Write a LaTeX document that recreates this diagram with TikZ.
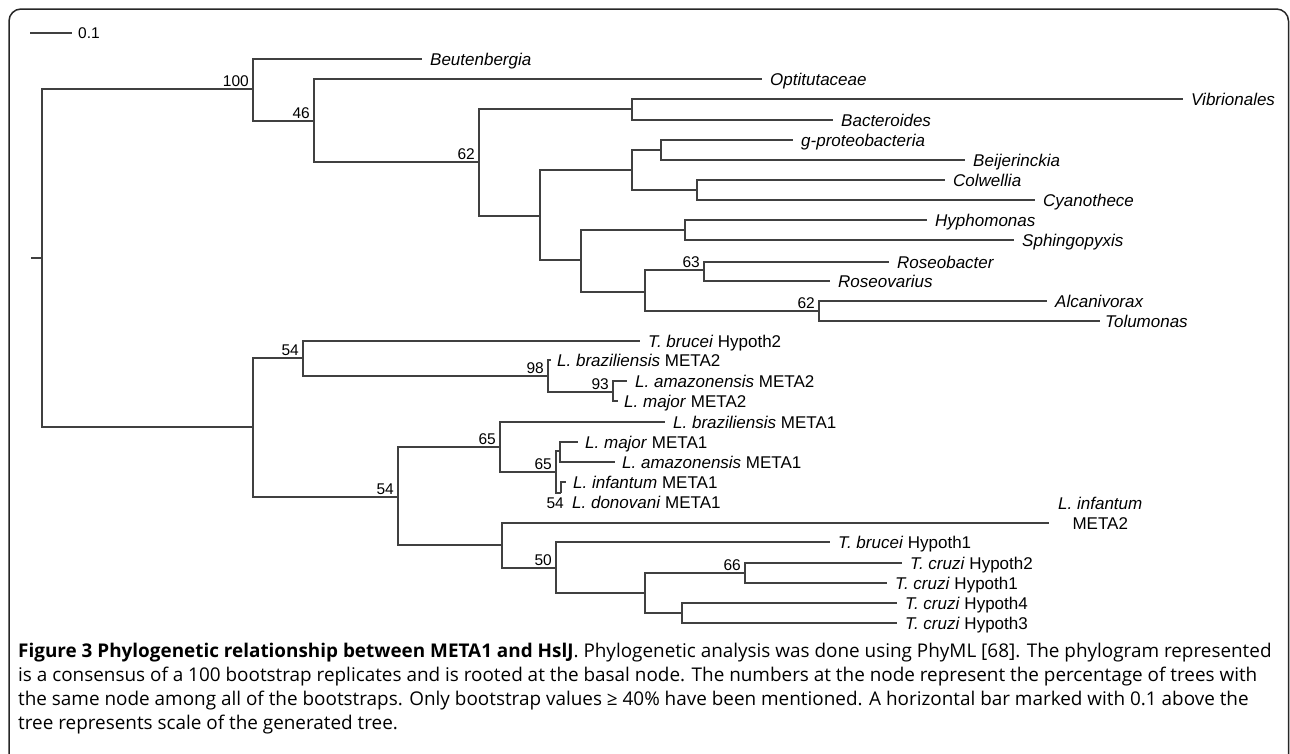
\documentclass[tikz,border=0pt]{standalone}
\usepackage{fontspec}
\setmainfont{Liberation Sans}
\newfontfamily\capfont{Open Sans}
\usetikzlibrary{calc}
\tikzset{
  br/.style={draw=black!75, line width=2.1pt},
  frame/.style={draw=black!85, line width=1.5pt, rounded corners=12pt},
  leaf/.style={font=\fontsize{17}{20}\selectfont, inner sep=0pt, anchor=base west},
  boot/.style={font=\fontsize{15.5}{18}\selectfont, inner sep=0pt, anchor=base east},
}
\newcommand{\lf}[3]{\node[leaf] (l#1) at ($(#1)+(8,6)$) {#3};}
\newcommand{\bs}[2]{\node[boot] (b#1) at ($(#1)+(-4,-3)$) {#2};}
\begin{document}
\begin{tikzpicture}[x=1pt,y=-1pt]
\useasboundingbox (0,0) rectangle (1290,753);
\draw[frame] (9,760) -- (9,9) -- (1288.5,9) -- (1288.5,760);

% scale bar
\coordinate (sb1) at (30,33);
\coordinate (sb2) at (72,33);
\draw[br] (sb1) -- (sb2);
\node[font=\fontsize{15.5}{18}\selectfont, inner sep=0pt, anchor=west] (sbl) at ($(sb2)+(6,0)$) {0.1};

% ---- coordinates: upper clade
\coordinate (rs) at (31,258);
\coordinate (r) at (42,258);
\coordinate (A) at (253,89);
\coordinate (Beut) at (422,59);
\coordinate (B) at (314,121);
\coordinate (Opti) at (762,79);
\coordinate (C) at (479,162);
\coordinate (D) at (632,109);
\coordinate (Vibr) at (1183,99);
\coordinate (Bact) at (833,120);
\coordinate (E) at (540,216);
\coordinate (F) at (632,170);
\coordinate (G) at (661,150);
\coordinate (Gpro) at (793,140);
\coordinate (Beij) at (965,160);
\coordinate (H) at (697,190);
\coordinate (Colw) at (945,180);
\coordinate (Cyan) at (1035,200);
\coordinate (I) at (581,260);
\coordinate (J) at (685,230);
\coordinate (Hyph) at (927,220);
\coordinate (Sphi) at (1014,240);
\coordinate (K) at (645,292);
\coordinate (L) at (704,270);
\coordinate (Rosb) at (889,262);
\coordinate (Rosv) at (830,281);
\coordinate (M) at (819,311);
\coordinate (Alca) at (1047,301);
\coordinate (Tolu) at (1100,321);
% ---- lower clade
\coordinate (N) at (253,427);
\coordinate (P) at (303,358);
\coordinate (Tbb) at (640,341);
\coordinate (Q) at (548,376);
\coordinate (Bzb) at (551,360);
\coordinate (R) at (613,392);
\coordinate (Amb) at (627,381);
\coordinate (Mjb) at (618,401);
\coordinate (S) at (398,497);
\coordinate (T) at (500,447);
\coordinate (Bza) at (665,422);
\coordinate (U) at (556,472);
\coordinate (V) at (560,451);
\coordinate (Mja) at (578,442);
\coordinate (Ama) at (615,462);
\coordinate (W) at (561,493);
\coordinate (Infa) at (566,482);
\coordinate (Dona) at (561,493);
\coordinate (X) at (502,545);
\coordinate (Infb) at (1049,523);
\coordinate (Y) at (556,568);
\coordinate (Tba) at (830,542);
\coordinate (Z) at (645,593);
\coordinate (Za) at (745,573);
\coordinate (Czb) at (902,563);
\coordinate (Cza) at (887,583);
\coordinate (Zb) at (682,613);
\coordinate (Czd) at (897,603);
\coordinate (Czc) at (897,623);

% ---- branches
\draw[br] (rs) -- (r);
\draw[br] (r) |- (A);  \draw[br] (r) |- (N);
\draw[br] (A) |- (Beut); \draw[br] (A) |- (B);
\draw[br] (B) |- (Opti); \draw[br] (B) |- (C);
\draw[br] (C) |- (D); \draw[br] (C) |- (E);
\draw[br] (D) |- (Vibr); \draw[br] (D) |- (Bact);
\draw[br] (E) |- (F); \draw[br] (E) |- (I);
\draw[br] (F) |- (G); \draw[br] (F) |- (H);
\draw[br] (G) |- (Gpro); \draw[br] (G) |- (Beij);
\draw[br] (H) |- (Colw); \draw[br] (H) |- (Cyan);
\draw[br] (I) |- (J); \draw[br] (I) |- (K);
\draw[br] (J) |- (Hyph); \draw[br] (J) |- (Sphi);
\draw[br] (K) |- (L); \draw[br] (K) |- (M);
\draw[br] (L) |- (Rosb); \draw[br] (L) |- (Rosv);
\draw[br] (M) |- (Alca); \draw[br] (M) |- (Tolu);

\draw[br] (N) |- (P); \draw[br] (N) |- (S);
\draw[br] (P) |- (Tbb); \draw[br] (P) |- (Q);
\draw[br] (Q) |- (Bzb); \draw[br] (Q) |- (R);
\draw[br] (R) |- (Amb); \draw[br] (R) |- (Mjb);
\draw[br] (S) |- (T); \draw[br] (S) |- (X);
\draw[br] (T) |- (Bza); \draw[br] (T) |- (U);
\draw[br] (U) |- (V); \draw[br] (U) |- (W);
\draw[br] (V) |- (Mja); \draw[br] (V) |- (Ama);
\draw[br] (W) |- (Infa);
\draw[br] (X) |- (Infb); \draw[br] (X) |- (Y);
\draw[br] (Y) |- (Tba); \draw[br] (Y) |- (Z);
\draw[br] (Z) |- (Za); \draw[br] (Z) |- (Zb);
\draw[br] (Za) |- (Czb); \draw[br] (Za) |- (Cza);
\draw[br] (Zb) |- (Czd); \draw[br] (Zb) |- (Czc);

% ---- leaf labels
\lf{Beut}{}{\textit{Beutenbergia}}
\lf{Opti}{}{\textit{Optitutaceae}}
\lf{Vibr}{}{\textit{Vibrionales}}
\lf{Bact}{}{\textit{Bacteroides}}
\lf{Gpro}{}{\textit{g-proteobacteria}}
\lf{Beij}{}{\textit{Beijerinckia}}
\lf{Colw}{}{\textit{Colwellia}}
\lf{Cyan}{}{\textit{Cyanothece}}
\lf{Hyph}{}{\textit{Hyphomonas}}
\lf{Sphi}{}{\textit{Sphingopyxis}}
\lf{Rosb}{}{\textit{Roseobacter}}
\lf{Rosv}{}{\textit{Roseovarius}}
\lf{Alca}{}{\textit{Alcanivorax}}
\node[leaf] (lTolu) at ($(Tolu)+(5,6)$) {\textit{Tolumonas}};
\lf{Tbb}{}{\textit{T. brucei} Hypoth2}
\node[leaf] (lBzb) at ($(Bzb)+(6,6)$) {\textit{L. braziliensis} META2};
\lf{Amb}{}{\textit{L. amazonensis} META2}
\node[leaf] (lMjb) at ($(Mjb)+(6,6)$) {\textit{L. major} META2};
\lf{Bza}{}{\textit{L. braziliensis} META1}
\node[leaf] (lMja) at ($(Mja)+(7,6)$) {\textit{L. major} META1};
\node[leaf] (lAma) at ($(Ama)+(7,6)$) {\textit{L. amazonensis} META1};
\node[leaf] (lInfa) at ($(Infa)+(7,6)$) {\textit{L. infantum} META1};
\node[leaf] (lDona) at ($(Dona)+(11,15)$) {\textit{L. donovani} META1};
\node[leaf, align=center] (lInfb) at ($(Infb)+(9,6)$) {\textit{L. infantum}\\[-0.5pt]META2};
\lf{Tba}{}{\textit{T. brucei} Hypoth1}
\lf{Czb}{}{\textit{T. cruzi} Hypoth2}
\lf{Cza}{}{\textit{T. cruzi} Hypoth1}
\lf{Czd}{}{\textit{T. cruzi} Hypoth4}
\lf{Czc}{}{\textit{T. cruzi} Hypoth3}

% ---- bootstrap values
\bs{A}{100}
\bs{B}{46}
\bs{C}{62}
\bs{L}{63}
\bs{M}{62}
\bs{P}{54}
\bs{Q}{98}
\bs{R}{93}
\bs{S}{54}
\bs{T}{65}
\bs{U}{65}
\node[boot] (bW) at ($(W)+(3,15)$) {54};
\bs{Y}{50}
\bs{Za}{66}

% ---- caption (anchor = baseline of the last line)
\node[inner sep=0pt, anchor=base west, align=left,
      font=\capfont\fontsize{18.9}{23.7}\selectfont] (cap) at (18,729)
{\textbf{Figure 3 Phylogenetic relationship between META1 and HslJ}. Phylogenetic analysis was done using PhyML [68]. The phylogram represented\\
is a consensus of a 100 bootstrap replicates and is rooted at the basal node. The numbers at the node represent the percentage of trees with\\
the same node among all of the bootstraps. Only bootstrap values ≥ 40\% have been mentioned. A horizontal bar marked with 0.1 above the\\
tree represents scale of the generated tree.};
\end{tikzpicture}
\end{document}
